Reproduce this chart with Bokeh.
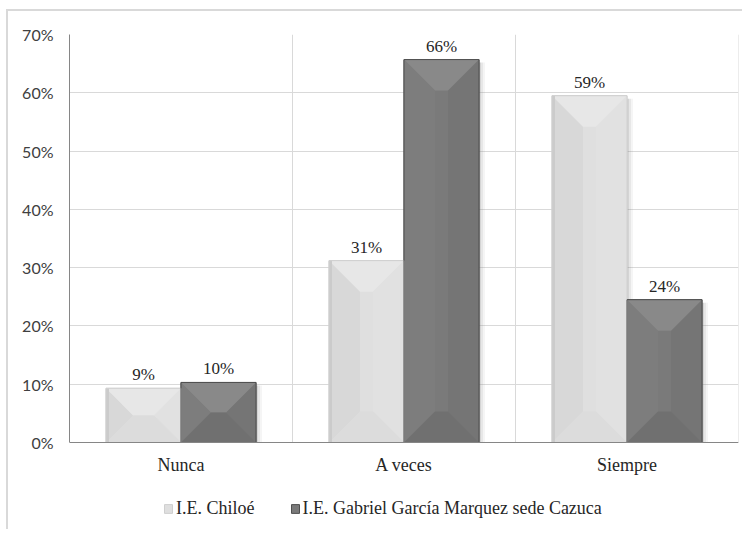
from bokeh.plotting import figure
from bokeh.models import (FixedTicker, NumeralTickFormatter, Legend,
                          LegendItem, Range1d, Span)
from bokeh.core.properties import value
from bokeh.embed import file_html
from bokeh.resources import INLINE

# ---- data ----
categories = ["Nunca", "A veces", "Siempre"]
series_names = ["I.E. Chiloé", "I.E. Gabriel García Marquez sede Cazuca"]
chiloe = [0.093, 0.312, 0.595]
garcia = [0.103, 0.657, 0.245]
chiloe_labels = ["9%", "31%", "59%"]
garcia_labels = ["10%", "66%", "24%"]
y_ticks = [0.0, 0.1, 0.2, 0.3, 0.4, 0.5, 0.6, 0.7]

# ---- geometry (canvas pixels; canvas is offset 8px/11px by the CSS border) ----
W, H = 736, 520
LEFT, TOP, RIGHT_EDGE, ZERO_Y = 61, 23, 730, 431
FRAME_W = RIGHT_EDGE - LEFT
YMAX = 0.7
NCAT = len(categories)
px_x = FRAME_W / NCAT
px_y = (ZERO_Y - TOP) / YMAX
YMIN = -(H - ZERO_Y) / px_y
BAR_PX = 75
bar_w = BAR_PX / px_x
bevel_px = 31

p = figure(width=W, height=H, x_range=Range1d(0, NCAT), y_range=Range1d(YMIN, YMAX),
           output_backend="svg", toolbar_location=None, x_axis_location=None,
           min_border_left=LEFT, min_border_right=W - RIGHT_EDGE,
           min_border_top=TOP, min_border_bottom=0)
p.styles = {"margin-left": "6px", "margin-top": "9px",
            "border-left": "2px solid #d9d9d9", "border-top": "2px solid #d9d9d9"}
p.outline_line_color = None
p.background_fill_color = "white"
p.border_fill_color = "white"

centers = [i + 0.5 for i in range(NCAT)]
x_light = [c - bar_w / 2 for c in centers]
x_dark = [c + bar_w / 2 for c in centers]

# grid
p.ygrid[0].ticker = FixedTicker(ticks=y_ticks)
p.ygrid[0].grid_line_color = "#d9d9d9"
p.xgrid.visible = False
bounds = list(range(1, NCAT + 1))
p.segment(x0=bounds, x1=bounds, y0=[0] * NCAT, y1=[YMAX] * NCAT,
          line_color="#d9d9d9", line_width=1)


def bevel_shapes(xs, vals):
    """Angle-bevel facets: top, bottom, left, right trapezoids (in data units)."""
    tops, bots, lefts, rights = ([], []), ([], []), ([], []), ([], [])
    for xc, v in zip(xs, vals):
        x0, x1 = xc - bar_w / 2, xc + bar_w / 2
        d_px = min(v * px_y / 2, bevel_px, BAR_PX / 2)
        dx, dy = d_px / px_x, d_px / px_y
        tops[0].append([x0, x1, x1 - dx, x0 + dx]); tops[1].append([v, v, v - dy, v - dy])
        bots[0].append([x0, x1, x1 - dx, x0 + dx]); bots[1].append([0, 0, dy, dy])
        lefts[0].append([x0, x0 + dx, x0 + dx, x0]); lefts[1].append([v, v - dy, dy, 0])
        rights[0].append([x1, x1 - dx, x1 - dx, x1]); rights[1].append([v, v - dy, dy, 0])
    return tops, bots, lefts, rights


# soft shadows to the right of the bars
for xs, vals in ((x_light, chiloe), (x_dark, garcia)):
    for k, a in ((6, 0.08), (4, 0.12), (2, 0.18)):
        p.quad(left=[x + bar_w / 2 for x in xs], right=[x + bar_w / 2 + k / px_x for x in xs],
               bottom=[0] * len(xs), top=[v - 3 / px_y for v in vals],
               fill_color="#808080", fill_alpha=a, line_color=None)

light_r = p.vbar(x=x_light, top=chiloe, width=bar_w, bottom=0,
                 fill_color="#dfdfdf", line_color="#cfcfcf", line_width=1)
dark_r = p.vbar(x=x_dark, top=garcia, width=bar_w, bottom=0,
                fill_color="#7a7a7a", line_color="#505050", line_width=1)

# facet colours: top, bottom, left, right
for xs, vals, cols in ((x_light, chiloe, ("#e7e7e7", "#dcdcdc", "#d8d8d8", "#e1e1e1")),
                       (x_dark, garcia, ("#898989", "#707070", "#7d7d7d", "#757575"))):
    t, b, l, r = bevel_shapes(xs, vals)
    for shape, col in zip((l, r, t, b), (cols[2], cols[3], cols[0], cols[1])):
        p.patches(xs=shape[0], ys=shape[1], fill_color=col, line_color=None)

# darker left edge strip on light bars
p.quad(left=[x - bar_w / 2 for x in x_light], right=[x - bar_w / 2 + 3 / px_x for x in x_light],
       bottom=[0] * len(x_light), top=chiloe, fill_color="#cbcbcb", line_color=None)

# borders on top
p.vbar(x=x_light, top=chiloe, width=bar_w, bottom=0, fill_color=None,
       line_color="#d0d0d0", line_width=1)
p.vbar(x=x_dark, top=garcia, width=bar_w, bottom=0, fill_color=None,
       line_color="#505050", line_width=1)

# x axis line at zero
p.add_layout(Span(location=0, dimension="width", line_color="#868686", line_width=1))

# data labels
serif = value("Liberation Serif")
p.text(x=x_light, y=chiloe, text=chiloe_labels, text_align="center", text_baseline="bottom",
       y_offset=-4, text_font=serif, text_font_size="17px", text_color="#262626")
p.text(x=x_dark, y=garcia, text=garcia_labels, text_align="center", text_baseline="bottom",
       y_offset=-4, text_font=serif, text_font_size="17px", text_color="#262626")

# category labels
p.text(x=centers, y=[0] * NCAT, text=categories, text_align="center", text_baseline="top",
       y_offset=12, text_font=serif, text_font_size="18px", text_color="#262626")

# y axis
yax = p.yaxis[0]
yax.ticker = FixedTicker(ticks=y_ticks)
yax.formatter = NumeralTickFormatter(format="0%")
yax.bounds = (0, YMAX)
yax.major_tick_line_color = None
yax.minor_tick_line_color = None
yax.major_tick_out = 0
yax.major_tick_in = 0
yax.axis_line_color = "#868686"
yax.major_label_standoff = 16
yax.major_label_text_font = "Lato"
yax.major_label_text_font_size = "16px"
yax.major_label_text_color = "#404040"

legend = Legend(items=[LegendItem(label=series_names[0], renderers=[light_r]),
                       LegendItem(label=series_names[1], renderers=[dark_r])],
                location=(94, 12), orientation="horizontal",
                glyph_width=10, glyph_height=11, label_height=22, label_standoff=3,
                spacing=35, padding=0, margin=0, border_line_color=None,
                background_fill_alpha=0,
                label_text_font="Liberation Serif", label_text_font_size="18px",
                label_text_color="#262626")
p.add_layout(legend, "center")

open("out.html", "w").write(file_html(p, INLINE))
